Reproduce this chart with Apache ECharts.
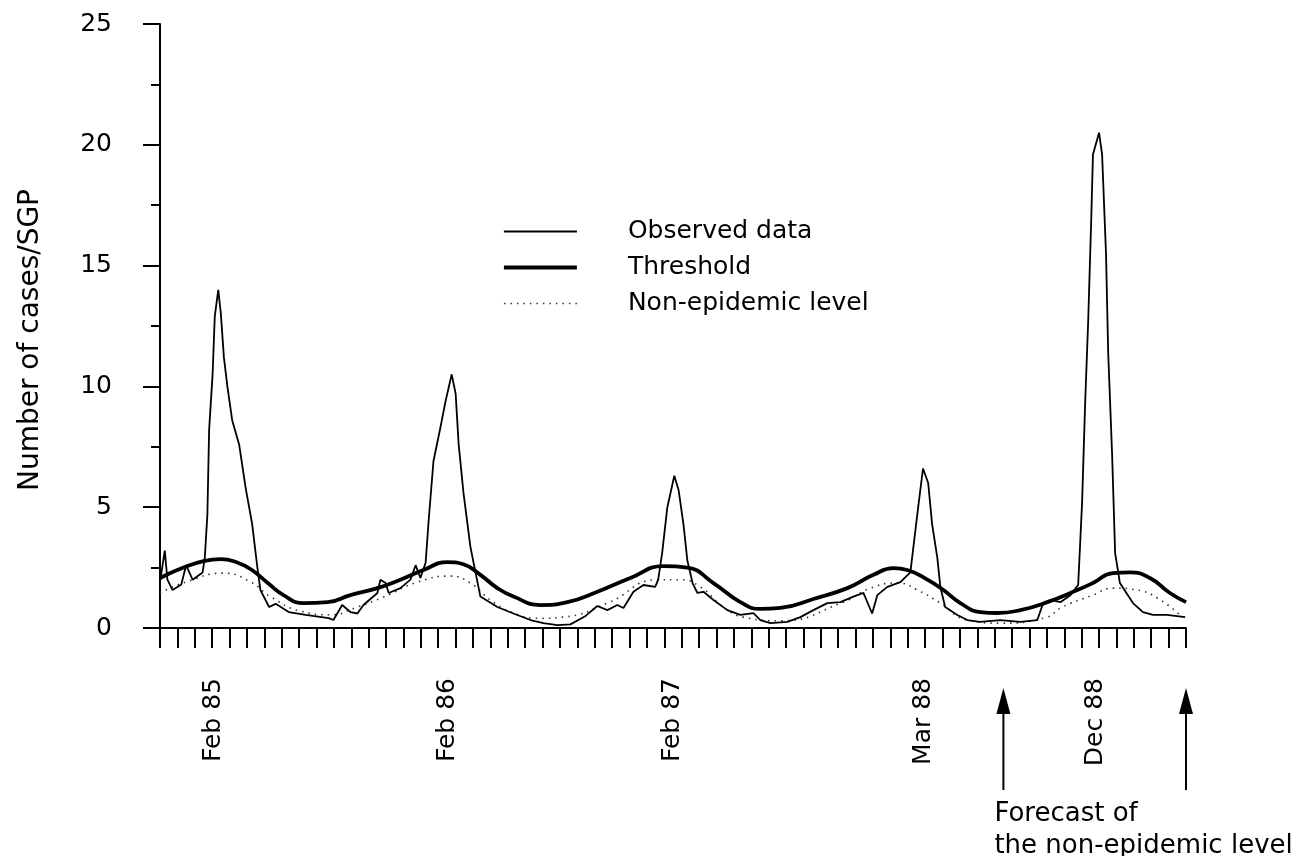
<!DOCTYPE html>
<html>
<head>
<meta charset="utf-8">
<script src="https://cdn.jsdelivr.net/npm/echarts@6/dist/echarts.min.js"></script>
<style>html,body{margin:0;padding:0;background:#fff}#c{width:1300px;height:856px}</style>
</head>
<body>
<div id="c"></div>
<script>
// x = week index from the start of the series (ticks every 4 weeks)
const observedWeek = [0,1.1,1.7,2.9,4.9,6.0,7.5,9.8,10.3,10.9,11.3,12.1,12.6,13.4,14.0,14.7,15.5,16.6,18.2,19.7,21.2,22.4,23.1,25.1,26.6,29.6,33.5,38.8,39.9,41.9,43.8,45.4,46.8,50.0,50.7,51.9,52.6,55.3,57.6,58.8,59.9,61.1,61.8,62.9,64.5,65.7,67.1,68.0,68.7,69.8,71.4,72.6,73.7,77.6,81.3,85.2,88.2,91.4,94.4,97.9,100.6,102.9,105.2,106.6,108.9,111.2,113.9,114.6,115.5,116.7,118.3,119.3,120.4,121.3,122.5,123.6,125.0,127.3,130.5,133.5,136.5,138.1,140.4,144.3,147.3,150.3,153.5,156.5,159.5,161.8,163.8,165.0,167.3,170.3,172.6,173.3,174.4,175.5,176.7,177.6,178.8,179.5,180.6,183.4,185.7,188.6,193.3,197.9,201.8,203.0,204.8,207.1,209.4,211.2,212.1,212.8,213.5,214.2,214.6,216.0,216.7,217.6,218.1,219.0,219.7,220.8,223.8,226.1,228.4,231.6,235.8];
const observedCases = [1.9,3.2,2.0,1.57,1.8,2.6,2.0,2.3,2.9,4.7,8.2,10.5,12.9,14.0,13.0,11.2,10.0,8.6,7.6,5.8,4.3,2.5,1.57,0.87,1.0,0.66,0.54,0.41,0.33,0.95,0.66,0.6,0.95,1.45,2.0,1.86,1.45,1.65,2.0,2.6,2.07,2.7,4.46,6.9,8.3,9.4,10.5,9.7,7.6,5.6,3.36,2.27,1.3,0.87,0.6,0.33,0.2,0.12,0.15,0.5,0.91,0.74,0.95,0.83,1.5,1.78,1.7,2.0,3.1,5.0,6.3,5.7,4.3,2.8,1.86,1.45,1.5,1.16,0.74,0.54,0.62,0.33,0.2,0.25,0.45,0.74,1.03,1.07,1.3,1.45,0.6,1.36,1.7,1.9,2.3,3.36,5.0,6.6,6.0,4.3,2.9,1.7,0.87,0.54,0.33,0.25,0.33,0.25,0.33,0.95,1.16,1.07,1.36,1.78,5.2,9.3,12.7,16.9,19.6,20.5,19.6,15.5,11.4,7.2,3.1,1.86,1.03,0.66,0.54,0.54,0.45];

const thresholdWeek = [0,5.4,10.0,14.0,17.9,20.9,24.8,28.4,33.0,38.6,43.8,50.0,55.3,60.6,66.1,69.8,73.7,77.6,81.3,87.5,93.7,100.6,108.2,115.8,121.3,127.3,133.5,138.1,142.7,150.3,158.1,164.1,168.7,171.9,176.5,180.2,184.1,188.7,192.6,197.9,204.1,211.0,214.6,219.2,223.1,227.7,232.3,236];
const thresholdCases = [2.07,2.5,2.77,2.85,2.7,2.43,1.86,1.36,1.03,1.07,1.36,1.65,2.0,2.4,2.73,2.64,2.2,1.65,1.3,0.95,1.07,1.5,2.07,2.56,2.5,1.86,1.07,0.79,0.83,1.2,1.65,2.2,2.48,2.4,2.0,1.57,1.03,0.66,0.62,0.74,1.07,1.57,1.86,2.27,2.3,2.07,1.45,1.07];

const baselineWeek = [0,5.9,14.6,20.9,25.4,32.3,39.2,45.4,51.4,59.2,66.8,71.4,76.0,81.3,87.5,92.8,102.9,114.6,119.7,124.3,129.6,134.2,142.7,157.2,163.4,169.8,174.2,179.5,185.7,193.3,204.1,207.1,214.6,219.2,224.8,229.4,234.6];
const baselineCases = [1.45,1.9,2.27,1.9,1.3,0.7,0.55,0.87,1.28,1.9,2.15,1.86,1.16,0.62,0.4,0.45,1.03,2.0,2.0,1.7,0.87,0.45,0.3,1.07,1.65,1.86,1.57,1.03,0.33,0.2,0.45,0.83,1.36,1.65,1.57,1.24,0.54];

const seriesNames = ['Observed data','Threshold','Non-epidemic level'];
const tickLabels = ['Feb 85','Feb 86','Feb 87','Mar 88','Dec 88'];
const labelWeeks = [12.3,66.1,117.9,175.6,215.1];
const arrowWeeks = [194,236];
const noteLines = ['Forecast of','the non-epidemic level'];

const ticksWeeks = [];
for (let w = 0; w <= 236; w += 4) ticksWeeks.push(w);

const pairs = (xs, ys) => xs.map((x, i) => [x, ys[i]]);
const FONT = 'DejaVu Sans';
const lineWidths = [1.8, 3.8, 1.6];

const chart = echarts.init(document.getElementById('c'), null, {renderer: 'canvas'});
chart.setOption({
  animation: false,
  backgroundColor: '#fff',
  textStyle: {fontFamily: FONT, color: '#000'},
  grid: {left: 160, top: 24, right: 114, bottom: 228},
  legend: {
    orient: 'vertical', left: 497, top: 214,
    itemWidth: 73, itemHeight: 14, itemGap: 11,
    itemStyle: {opacity: 0},
    data: seriesNames.map((n, i) => ({name: n, lineStyle: {width: lineWidths[i]}})),
    textStyle: {fontFamily: FONT, fontSize: 25, color: '#000', padding: [0, 0, 0, 46]}
  },
  xAxis: {
    type: 'value', min: 0, max: 236, interval: 4,
    axisLine: {lineStyle: {color: '#000', width: 2}},
    axisTick: {show: true, length: 20, customValues: ticksWeeks, lineStyle: {color: '#000', width: 2}},
    axisLabel: {
      customValues: labelWeeks, rotate: 90, margin: 50,
      fontFamily: FONT, fontSize: 25, color: '#000',
      formatter: v => { const i = labelWeeks.indexOf(v); return i >= 0 ? tickLabels[i] : ''; }
    },
    splitLine: {show: false}
  },
  yAxis: {
    type: 'value', min: 0, max: 25, interval: 5,
    name: 'Number of cases/SGP', nameLocation: 'middle', nameGap: 115,
    nameTextStyle: {fontFamily: FONT, fontSize: 28, color: '#000', padding: [0, 28, 0, 0]},
    axisLine: {show: true, lineStyle: {color: '#000', width: 2}},
    axisTick: {show: true, length: 17, lineStyle: {color: '#000', width: 2}},
    minorTick: {show: true, splitNumber: 2, length: 9, lineStyle: {color: '#000', width: 2}},
    axisLabel: {margin: 48, fontFamily: FONT, fontSize: 25, color: '#000'},
    splitLine: {show: false}
  },
  series: [
    {name: seriesNames[0], type: 'line', data: pairs(observedWeek, observedCases),
     symbol: 'none', lineStyle: {color: '#000', width: lineWidths[0]}, itemStyle: {color: '#000'}, z: 3},
    {name: seriesNames[1], type: 'line', data: pairs(thresholdWeek, thresholdCases), smooth: 0.5,
     symbol: 'none', lineStyle: {color: '#000', width: lineWidths[1]}, itemStyle: {color: '#000'}, z: 2},
    {name: seriesNames[2], type: 'line', data: pairs(baselineWeek, baselineCases), smooth: 0.5,
     symbol: 'none', lineStyle: {color: '#333', width: lineWidths[2], type: [1.5, 5]}, itemStyle: {color: '#333'}, z: 1}
  ]
});

const ax = arrowWeeks.map(w => chart.convertToPixel({xAxisIndex: 0}, w));
const g = [];
ax.forEach(x => {
  g.push({type: 'line', shape: {x1: x, y1: 790, x2: x, y2: 708}, style: {stroke: '#000', lineWidth: 2}});
  g.push({type: 'polygon', shape: {points: [[x, 688], [x - 7, 714], [x + 7, 714]]}, style: {fill: '#000'}});
});
noteLines.forEach((t, i) => {
  g.push({type: 'text', x: ax[0] - 9, y: 814 + i * 32,
    style: {text: t, font: '26px "DejaVu Sans"', fill: '#000', textAlign: 'left', textVerticalAlign: 'middle'}});
});
chart.setOption({graphic: g});
</script>
</body>
</html>
